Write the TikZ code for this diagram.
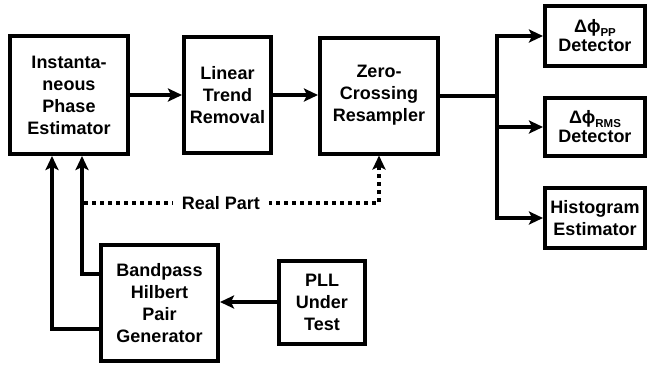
\documentclass[tikz,border=0pt]{standalone}
\usepackage{fontspec}
\setmainfont{Liberation Sans}
\usetikzlibrary{arrows.meta,calc}
\begin{document}
\begin{tikzpicture}[x=1pt,y=-1pt,line width=4pt,
  blk/.style={draw,line width=4pt,align=center,inner sep=0pt,
    font=\fontsize{18}{22}\selectfont\bfseries},
  arr/.style={-{Stealth[length=14pt,width=13pt,inset=3pt]}},
  dots/.style={dash pattern=on 4pt off 4pt},
  lbl/.style={fill=white,inner xsep=9pt,inner ysep=2pt,font=\fontsize{18}{22}\selectfont\bfseries}
]
\useasboundingbox (0,0) rectangle (649,368);
\newcommand{\subsc}[1]{\raisebox{-0.35ex}{\fontsize{11.5}{12}\selectfont #1}}
\node[blk,minimum width=118pt,minimum height=118pt] (ipe) at (69,95) {Instanta-\\neous\\Phase\\Estimator};
\node[blk,minimum width=87pt,minimum height=116pt] (ltr) at (227.5,95) {Linear\\Trend\\Removal};
\node[blk,minimum width=118pt,minimum height=116pt] (zcr) at (379,95.5) {Zero-\\Crossing\\Resampler};
\node[blk,minimum width=100pt,minimum height=60pt] (pp) at (595,36) {Δϕ\subsc{PP}\\[-3pt]Detector};
\node[blk,minimum width=100pt,minimum height=58pt] (rms) at (595,127) {Δϕ\subsc{RMS}\\[-3pt]Detector};
\node[blk,minimum width=100pt,minimum height=60pt] (hist) at (595,218) {Histogram\\Estimator};
\node[blk,minimum width=117pt,minimum height=116pt] (bp) at (159.5,303) {Bandpass\\Hilbert\\Pair\\Generator};
\node[blk,minimum width=86pt,minimum height=83pt] (pll) at (322,302) {PLL\\Under\\Test};

\draw[arr] (ipe.east) -- (ltr.west);
\draw[arr] (ltr.east) -- (ltr.east -| zcr.west);
\coordinate (split) at (497,96);
\draw (zcr.east |- split) -- (split);
\draw[arr] (split) |- (pp.west);
\draw[arr] (split |- rms.west) -- (rms.west);
\draw[arr] (split) |- (hist.west);

\draw[arr] ($(bp.west)+(0,26)$) -| ($(ipe.south)+(-17,0)$);
\draw[arr] ($(bp.west)+(0,-29)$) -| ($(ipe.south)+(13,0)$);

\coordinate (rpL) at (84,203);
\draw[dots,arr] (rpL) -| (zcr.south);
\node[lbl] (rp) at (221,203) {Real Part};

\draw[arr] (pll.west) -- (pll.west -| bp.east);
\end{tikzpicture}
\end{document}
